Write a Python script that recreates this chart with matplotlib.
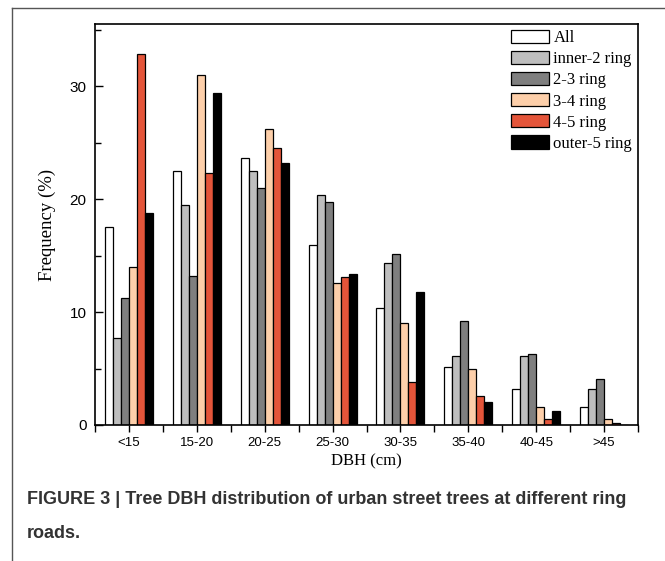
#!/usr/bin/env python3
"""Tree DBH distribution by ring road, grouped bar chart."""

import matplotlib

matplotlib.use("Agg")
import matplotlib.pyplot as plt
from matplotlib.lines import Line2D
from matplotlib.ticker import MultipleLocator
import numpy as np

categories = ["<15", "15-20", "20-25", "25-30", "30-35", "35-40", "40-45", ">45"]
series_names = ["All", "inner-2 ring", "2-3 ring", "3-4 ring", "4-5 ring", "outer-5 ring"]
all_rings = [17.5, 22.5, 23.6, 15.9, 10.4, 5.1, 3.2, 1.6]
inner_2 = [7.7, 19.5, 22.5, 20.4, 14.3, 6.1, 6.1, 3.2]
ring_2_3 = [11.2, 13.2, 21.0, 19.7, 15.1, 9.2, 6.3, 4.1]
ring_3_4 = [14.0, 31.0, 26.2, 12.6, 9.0, 5.0, 1.6, 0.5]
ring_4_5 = [32.8, 22.3, 24.5, 13.1, 3.8, 2.6, 0.5, 0.2]
outer_5 = [18.8, 29.4, 23.2, 13.4, 11.8, 2.0, 1.2, 0.0]

colors = ["white", "#bebebe", "#7f7f7f", "#fdcfaa", "#e4553a", "black"]
serif = ["Liberation Serif", "DejaVu Serif"]
sans = ["Liberation Sans", "DejaVu Sans"]

fig = plt.figure(figsize=(6.65, 5.61), dpi=100)
ax = fig.add_axes([95 / 665, 1 - 425 / 561, 543 / 665, 401 / 561])

x = np.arange(len(categories))
w = 0.118
data = [all_rings, inner_2, ring_2_3, ring_3_4, ring_4_5, outer_5]
for i, (name, vals) in enumerate(zip(series_names, data)):
    ax.bar(x + (i - 2.5) * w, vals, w, color=colors[i], edgecolor="black",
           linewidth=0.9, label=name)

ax.set_xlim(-0.5, 7.5)
ax.set_ylim(0, 35.5)
ax.set_xticks(x)
ax.set_xticklabels(categories, fontfamily=sans, fontsize=9.5)
ax.xaxis.set_minor_locator(MultipleLocator(1, offset=0.5))
ax.yaxis.set_major_locator(MultipleLocator(10))
ax.yaxis.set_minor_locator(MultipleLocator(5))
ax.tick_params(axis="x", which="both", direction="out", length=5, width=1, pad=4)
ax.tick_params(axis="y", which="major", direction="in", length=6, width=1,
               labelsize=11, pad=6)
ax.tick_params(axis="y", which="minor", direction="in", length=4, width=1)
for lab in ax.get_yticklabels():
    lab.set_fontfamily(sans)
for sp in ax.spines.values():
    sp.set_linewidth(1.2)

ax.set_xlabel("DBH (cm)", fontfamily=serif, fontsize=12, labelpad=3)
ax.set_ylabel("Frequency (%)", fontfamily=serif, fontsize=13.5, labelpad=10)

ax.legend(loc="upper right", frameon=False, prop={"family": serif, "size": 12},
          handlelength=2.3, handleheight=0.85, handletextpad=0.25,
          labelspacing=0.28, borderaxespad=0.15, borderpad=0.2)

# outer frame of the figure panel
fig.add_artist(Line2D([12 / 665, 12 / 665], [0, 1 - 8 / 561], transform=fig.transFigure,
                      color="#555555", linewidth=1))
fig.add_artist(Line2D([12 / 665, 1], [1 - 8 / 561, 1 - 8 / 561], transform=fig.transFigure,
                      color="#555555", linewidth=1))

fig.text(27 / 665, 1 - 500 / 561,
         "FIGURE 3 | Tree DBH distribution of urban street trees at different ring",
         fontfamily=sans, fontweight="bold", fontsize=13, color="#333333", va="center")
fig.text(27 / 665, 1 - 533 / 561, "roads.",
         fontfamily=sans, fontweight="bold", fontsize=13, color="#333333", va="center")

fig.savefig("out.png", dpi=100)
